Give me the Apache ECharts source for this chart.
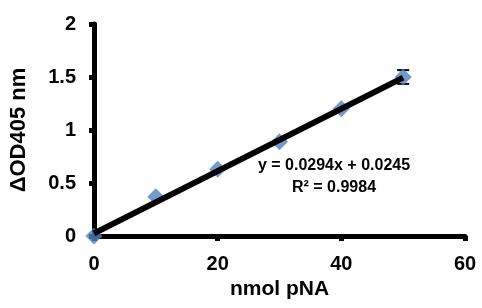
<!DOCTYPE html>
<html><head><meta charset="utf-8">
<script src="https://cdn.jsdelivr.net/npm/echarts@6/dist/echarts.min.js"></script>
<style>html,body{margin:0;padding:0;background:#fff}#c{width:482px;height:308px}</style>
</head><body><div id="c"></div>
<script>
var xValues = [0, 10, 20, 30, 40, 50];
var yValues = [0, 0.37, 0.63, 0.89, 1.20, 1.50];
var errX = [50];
var errY = [1.50];
var errAmt = [0.065];
var trendX = [0, 50];
var trendY = [0.0245, 1.4945];
var xTicks = [0, 20, 40, 60];
var yTicks = [0, 0.5, 1, 1.5, 2];
var eqText = ['y = 0.0294x + 0.0245', 'R² = 0.9984'];

var chart = echarts.init(document.getElementById('c'), null, {renderer: 'canvas'});
var font = '"Liberation Sans", Arial, sans-serif';
chart.setOption({
  animation: false,
  backgroundColor: '#fff',
  grid: {left: 92, top: 24, right: 17, bottom: 72},
  xAxis: {
    type: 'value', min: 0, max: 60, interval: 20,
    axisLine: {lineStyle: {color: '#000', width: 5}},
    axisTick: {show: true, inside: false, length: 5, lineStyle: {color: '#000', width: 5}},
    axisLabel: {color: '#000', fontSize: 20, fontWeight: 700, fontFamily: font, margin: 18},
    splitLine: {show: false},
    name: 'nmol pNA', nameLocation: 'middle', nameGap: 41,
    nameTextStyle: {color: '#000', fontSize: 21, fontWeight: 700, fontFamily: font}
  },
  yAxis: {
    type: 'value', min: 0, max: 2, interval: 0.5,
    axisLine: {lineStyle: {color: '#000', width: 5}},
    axisTick: {show: true, inside: false, length: 5, lineStyle: {color: '#000', width: 5}},
    axisLabel: {color: '#000', fontSize: 20, fontWeight: 700, fontFamily: font, margin: 18},
    splitLine: {show: false},
    name: 'ΔOD405 nm', nameLocation: 'middle', nameGap: 64, nameRotate: 90,
    nameTextStyle: {color: '#000', fontSize: 22, fontWeight: 700, fontFamily: font}
  },
  series: [
    {
      type: 'scatter', symbol: 'diamond', symbolSize: 17, z: 2,
      itemStyle: {color: '#4F81BD'},
      data: xValues.map(function (x, i) { return [x, yValues[i]]; })
    },
    {
      type: 'custom', z: 1,
      data: errX.map(function (x, i) { return [x, errY[i], errAmt[i]]; }),
      renderItem: function (params, api) {
        var x = api.value(0), y = api.value(1), e = api.value(2);
        var hi = api.coord([x, y + e]), lo = api.coord([x, y - e]);
        var w = 6;
        return {type: 'group', children: [
          {type: 'line', shape: {x1: hi[0] - w, y1: hi[1], x2: hi[0] + w, y2: hi[1]}, style: {stroke: '#000', lineWidth: 2}},
          {type: 'line', shape: {x1: lo[0] - w, y1: lo[1], x2: lo[0] + w, y2: lo[1]}, style: {stroke: '#000', lineWidth: 2}}
        ]};
      }
    },
    {
      type: 'line', z: 3, symbol: 'none', silent: true,
      lineStyle: {color: '#000', width: 6},
      data: trendX.map(function (x, i) { return [x, trendY[i]]; })
    }
  ],
  graphic: [
    {type: 'text', position: [334, 166], z: 10, style: {text: eqText[0], fill: '#000', fontSize: 16, fontWeight: 700, fontFamily: font, textAlign: 'center', textVerticalAlign: 'middle'}},
    {type: 'text', position: [334, 188], z: 10, style: {text: eqText[1], fill: '#000', fontSize: 16, fontWeight: 700, fontFamily: font, textAlign: 'center', textVerticalAlign: 'middle'}}
  ]
});
</script></body></html>
